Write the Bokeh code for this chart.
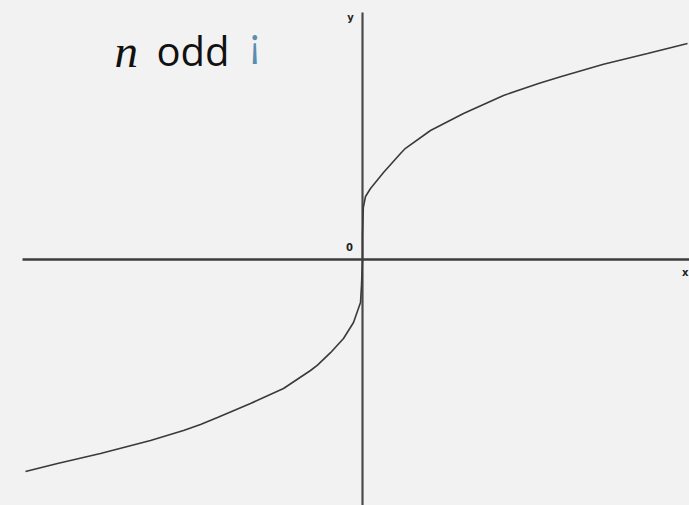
from bokeh.plotting import figure
from bokeh.models import Range1d, Label, GlobalInlineStyleSheet
from bokeh.embed import file_html
from bokeh.resources import INLINE

# Curve points (data units)
curve_x = [-8.425, -7.625, -6.55, -5.3, -4.475, -4.05, -3.625, -2.8, -1.975, -1.3,
           -1.125, -0.8, -0.475, -0.225, -0.05, -0.025, 0.0, 0.0, 0.02, 0.075,
           0.2, 0.525, 0.95, 1.075, 1.7, 2.525, 3.525, 4.4, 4.95, 6.025, 7.125, 8.125]
curve_y = [-5.3, -5.1, -4.85, -4.525, -4.275, -4.125, -3.95, -3.6, -3.225, -2.775,
           -2.64, -2.33, -1.975, -1.575, -1.075, -0.65, 0.0, 0.6, 1.3, 1.575,
           1.775, 2.175, 2.65, 2.78, 3.225, 3.65, 4.1, 4.4, 4.57, 4.88, 5.15, 5.4]

# Coordinate axes drawn as lines (extents in data units)
x_axis_x = [-8.5, 8.2]
x_axis_y = [0, 0]
y_axis_x = [0, 0]
y_axis_y = [-6.2, 6.175]

title_parts = ["n", "odd", "¡"]
axis_labels = ["y", "0", "x"]

BG = "#f2f2f2"

p = figure(width=689, height=505, output_backend="svg", toolbar_location=None,
           x_range=Range1d(-9.05, 8.175), y_range=Range1d(-6.15, 6.475),
           x_axis_type=None, y_axis_type=None, min_border=0,
           background_fill_color=BG, border_fill_color=BG, outline_line_color=None)
p.grid.visible = False
p.stylesheets = [GlobalInlineStyleSheet(css="html, body { background: #f2f2f2; }")]

p.line(x_axis_x, x_axis_y, line_color="#3c3c3c", line_width=2.4)
p.line(y_axis_x, y_axis_y, line_color="#4a4a4a", line_width=2.2)
p.line(curve_x, curve_y, line_color="#3a3a3a", line_width=1.6)

p.add_layout(Label(x=114, y=455, x_units="screen", y_units="screen", text=title_parts[0],
                   text_font="Liberation Serif", text_font_style="italic",
                   text_font_size="47px", text_color="#111111", text_baseline="alphabetic"))
p.add_layout(Label(x=156, y=455, x_units="screen", y_units="screen", text=title_parts[1],
                   text_font="Open Sans", text_font_size="40px", text_color="#111111",
                   text_baseline="alphabetic"))
p.add_layout(Label(x=249, y=464, x_units="screen", y_units="screen", text=title_parts[2],
                   text_font="Open Sans", text_font_size="40px", text_color="#5a8db0",
                   text_baseline="alphabetic"))

p.add_layout(Label(x=350, y=488, x_units="screen", y_units="screen", text=axis_labels[0],
                   text_font="DejaVu Sans", text_font_style="bold", text_font_size="10px",
                   text_color="#222222", text_align="center", text_baseline="middle"))
p.add_layout(Label(x=349, y=259, x_units="screen", y_units="screen", text=axis_labels[1],
                   text_font="DejaVu Sans", text_font_style="bold", text_font_size="10px",
                   text_color="#222222", text_align="center", text_baseline="middle"))
p.add_layout(Label(x=688, y=233, x_units="screen", y_units="screen", text=axis_labels[2],
                   text_font="DejaVu Sans", text_font_style="bold", text_font_size="10px",
                   text_color="#222222", text_align="right", text_baseline="middle"))

open("out.html", "w").write(file_html(p, INLINE))
